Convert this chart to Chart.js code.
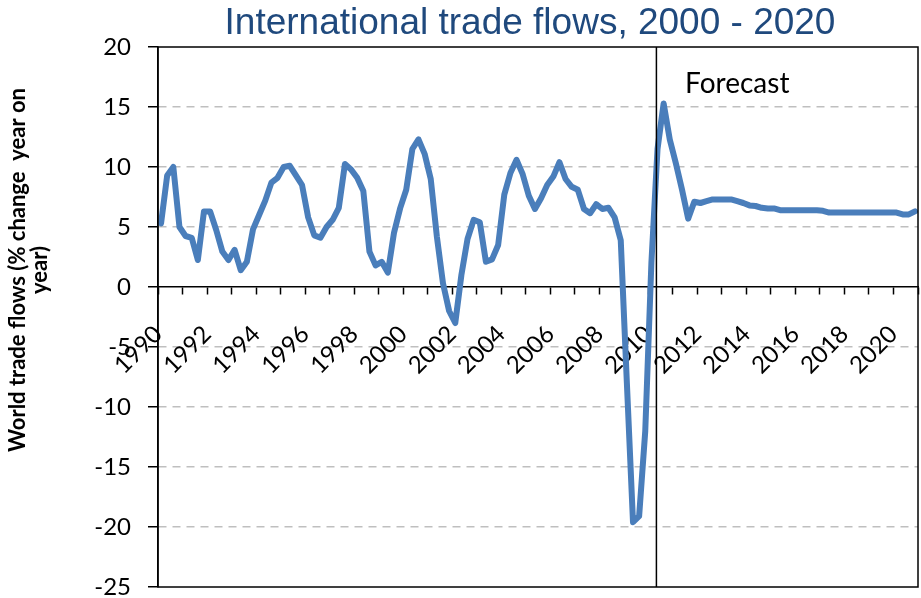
<!DOCTYPE html>
<html>
<head>
<meta charset="utf-8">
<script src="https://cdn.jsdelivr.net/npm/chart.js@4.4.0/dist/chart.umd.min.js"></script>
<style>
  html, body { margin: 0; padding: 0; background: #fff; }
  #wrap { width: 921px; height: 598px; }
</style>
</head>
<body>
<div id="wrap"><canvas id="tradeChart"></canvas></div>
<script>
// world trade flows, % change year on year, quarterly 1990 Q1 - 2020 Q4
const growth1990s = [5.3, 9.3, 10.0, 5.0, 4.25, 4.1, 2.25, 6.3, 6.3, 4.75,
  2.95, 2.25, 3.1, 1.4, 2.1, 4.8, 6.0, 7.2, 8.7, 9.1,
  10.0, 10.1, 9.3, 8.5, 5.8, 4.3, 4.1, 5.0, 5.6, 6.6,
  10.25, 9.8, 9.1, 8.0, 2.95, 1.8, 2.1, 1.2, 4.5, 6.55];
const growth2000s = [8.1, 11.5, 12.3, 11.1, 9.0, 4.2, 0.3, -2.0, -3.0, 1.0,
  4.0, 5.6, 5.4, 2.1, 2.3, 3.5, 7.7, 9.5, 10.6, 9.4,
  7.6, 6.5, 7.4, 8.5, 9.2, 10.4, 9.0, 8.35, 8.1, 6.5,
  6.15, 6.9, 6.5, 6.6, 5.8, 3.9, -8.0, -19.6, -19.1, -12.0];
const growth2010s = [2.0, 11.5, 15.3, 12.3, 10.3, 8.1, 5.7, 7.1, 7.0, 7.15,
  7.3, 7.3, 7.3, 7.3, 7.15, 7.0, 6.8, 6.75, 6.6, 6.55,
  6.55, 6.4, 6.4, 6.4, 6.4, 6.4, 6.4, 6.4, 6.35, 6.2,
  6.2, 6.2, 6.2, 6.2, 6.2, 6.2, 6.2, 6.2, 6.2, 6.2,
  6.2, 6.05, 6.05, 6.3];
const growth = [...growth1990s, ...growth2000s, ...growth2010s];

const firstYear = 1990;
const lastYear = 2021;
const yTicks = { min: -25, max: 20, step: 5 };
const forecastStart = 2010.33;

const titleText = 'International trade flows, 2000 - 2020';
const yTitle = ['World trade flows (% change  year on', 'year)'];

// each quarter sits in the middle of its slot
const points = growth.map((v, i) => ({ x: firstYear + (i + 0.5) / 4, y: v }));

// keep tick labels from pushing the plot area around
function noPadding(scale) {
  scale.paddingTop = 0;
  scale.paddingBottom = 0;
  scale.paddingLeft = 0;
  scale.paddingRight = 0;
}

const decorations = {
  id: 'decorations',
  afterDraw(chart) {
    const { ctx, chartArea: a, scales: { x, y } } = chart;
    ctx.save();
    ctx.strokeStyle = '#000';
    ctx.lineWidth = 1.5;
    ctx.strokeRect(a.left, a.top, a.width, a.height);

    // forecast divider
    const fx = x.getPixelForValue(forecastStart);
    ctx.beginPath();
    ctx.moveTo(fx, a.top);
    ctx.lineTo(fx, a.bottom);
    ctx.stroke();

    ctx.fillStyle = '#000';
    ctx.font = '28px Lato';
    ctx.textAlign = 'left';
    ctx.textBaseline = 'alphabetic';
    ctx.fillText('Forecast', x.getPixelForValue(2011.5), y.getPixelForValue(16.2));

    // title
    ctx.fillStyle = '#1F497D';
    ctx.font = '37px "Liberation Sans"';
    ctx.textAlign = 'center';
    ctx.fillText(titleText, (a.left + a.right) / 2 - 8, 34);

    // y axis title, two lines
    ctx.fillStyle = '#000';
    ctx.font = 'bold 22px Lato';
    ctx.textBaseline = 'middle';
    [18, 40].forEach((lx, k) => {
      ctx.save();
      ctx.translate(lx, 270);
      ctx.rotate(-Math.PI / 2);
      ctx.fillText(yTitle[k], 0, 0);
      ctx.restore();
    });
    ctx.restore();
  }
};

new Chart(document.getElementById('tradeChart'), {
  type: 'line',
  data: {
    datasets: [{
      data: points,
      borderColor: '#4A7EBB',
      borderWidth: 6,
      pointRadius: 0,
      tension: 0,
      borderJoinStyle: 'round',
      borderCapStyle: 'round'
    }]
  },
  options: {
    responsive: true,
    maintainAspectRatio: false,
    animation: false,
    layout: { padding: { top: 47, right: 3, bottom: 11, left: 0 } },
    plugins: { legend: { display: false }, tooltip: { enabled: false }, title: { display: false } },
    scales: {
      x: {
        type: 'linear',
        position: { y: 0 },
        min: firstYear,
        max: lastYear,
        border: { display: true, color: '#000', width: 1.5 },
        grid: { drawOnChartArea: false, drawTicks: true, tickLength: 7, tickColor: '#000', tickWidth: 1.5 },
        ticks: {
          stepSize: 1,
          autoSkip: false,
          minRotation: 45,
          maxRotation: 45,
          padding: 26,
          color: '#000',
          font: { family: 'Lato', size: 24 },
          callback: v => (v % 2 === 0 && v < lastYear ? String(v) : '')
        },
        afterFit: noPadding
      },
      y: {
        min: yTicks.min,
        max: yTicks.max,
        border: { display: true, color: '#000', width: 1.5, dash: [8, 6] },
        grid: {
          color: c => ([0, yTicks.max, yTicks.min].includes(c.tick && c.tick.value) ? 'rgba(0,0,0,0)' : '#bfbfbf'),
          lineWidth: 1.5,
          tickColor: '#000',
          tickLength: 10,
          tickWidth: 1.5
        },
        ticks: {
          stepSize: yTicks.step,
          padding: 17,
          color: '#000',
          font: { family: 'Lato', size: 24, lineHeight: 0.9 }
        },
        afterFit(scale) {
          noPadding(scale);
          scale.width = 158;
        }
      }
    }
  },
  plugins: [decorations]
});
</script>
</body>
</html>
